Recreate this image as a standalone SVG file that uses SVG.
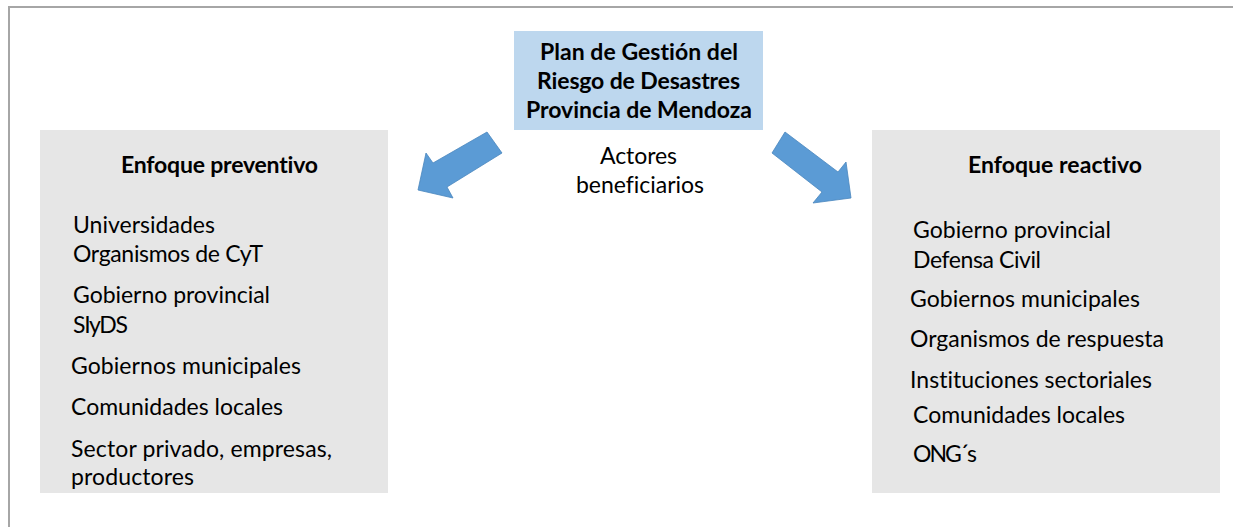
<svg xmlns="http://www.w3.org/2000/svg" width="1233" height="527" viewBox="0 0 1233 527">
<style>
.t{font-family:Lato,"Liberation Sans",sans-serif;font-size:23px;fill:#000;font-variant-ligatures:none}
.b{font-weight:bold}
.box{fill:#E6E6E6}
.arrow{fill:#5B9BD5;stroke:#4A86BE;stroke-width:0.8}
</style>
<rect width="1233" height="527" fill="#fff"/>
<path d="M9 527 V7 H1233" fill="none" stroke="#A6A6A6" stroke-width="2"/>
<g id="plan">
<rect x="514" y="31" width="249" height="99" fill="#BDD7EE"/>
<text class="t b" x="540" y="60" textLength="198">Plan de Gestión del</text>
<text class="t b" x="537" y="89" textLength="203">Riesgo de Desastres</text>
<text class="t b" x="526" y="118" textLength="226">Provincia de Mendoza</text>
</g>
<g id="actores">
<text class="t" x="600" y="164" textLength="77">Actores</text>
<text class="t" x="576" y="193" textLength="128">beneficiarios</text>
</g>
<g id="preventivo">
<rect class="box" x="40" y="130" width="348" height="363"/>
<text class="t b" x="121" y="173" textLength="197">Enfoque preventivo</text>
<text class="t" x="73" y="233" textLength="142">Universidades</text>
<text class="t" x="73" y="262" textLength="190">Organismos de CyT</text>
<text class="t" x="73" y="303" textLength="197">Gobierno provincial</text>
<text class="t" x="73" y="333" textLength="55">SIyDS</text>
<text class="t" x="71" y="374" textLength="230">Gobiernos municipales</text>
<text class="t" x="71" y="415" textLength="212">Comunidades locales</text>
<text class="t" x="71" y="457" textLength="261">Sector privado, empresas,</text>
<text class="t" x="71" y="485" textLength="123">productores</text>
</g>
<g id="reactivo">
<rect class="box" x="872" y="130" width="348" height="363"/>
<text class="t b" x="968" y="173" textLength="174">Enfoque reactivo</text>
<text class="t" x="913" y="238" textLength="198">Gobierno provincial</text>
<text class="t" x="913" y="268" textLength="128">Defensa Civil</text>
<text class="t" x="910" y="307" textLength="230">Gobiernos municipales</text>
<text class="t" x="910" y="347" textLength="254">Organismos de respuesta</text>
<text class="t" x="910" y="388" textLength="242">Instituciones sectoriales</text>
<text class="t" x="913" y="423" textLength="212">Comunidades locales</text>
<text class="t" x="913" y="462" textLength="64">ONG´s</text>
</g>
<g id="connectors">
<polygon class="arrow" points="487,132 502,153 447,187 453,198 418,190 426,153 433,163"/>
<polygon class="arrow" points="785,132 838,172 846,162 851,198 813,203 822,192 772,153"/>
</g>
</svg>
